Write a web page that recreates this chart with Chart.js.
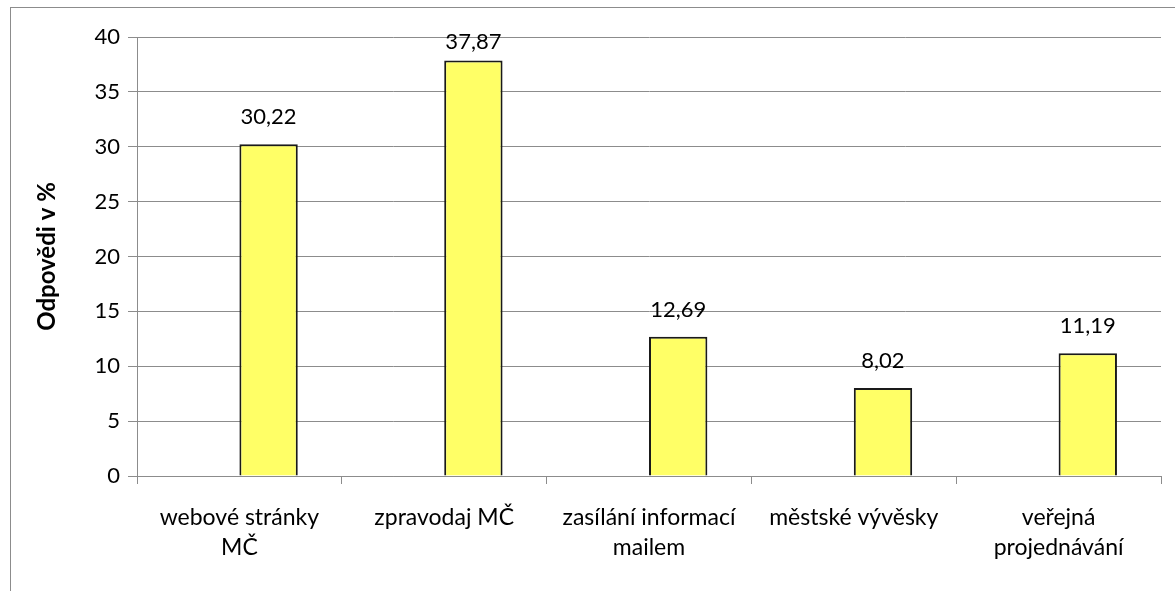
<!DOCTYPE html>
<html lang="cs">
<head>
    <meta charset="UTF-8">
    <title>Odpovědi v %</title>
    <style>
body {
    margin: 0;
    padding: 0;
    background-color: #fff;
    overflow: hidden;
}

#frame {
    position: absolute;
    left: 10px;
    top: 7px;
    width: 1300px;
    height: 700px;
    border: 1px solid #8c8c8c;
}

#chart-container {
    position: absolute;
    left: 0;
    top: 0;
    width: 1175px;
    height: 591px;
}
    </style>
</head>
<body>
    <div id="frame"></div>
    <div id="chart-container">
        <canvas id="surveyChart" width="1175" height="591"></canvas>
    </div>

    <script src="https://cdn.jsdelivr.net/npm/chart.js"></script>
    <script>
        // Data
        const categories = [
            ['webové stránky', 'MČ'],
            'zpravodaj MČ',
            ['zasílání informací', 'mailem'],
            'městské vývěsky',
            ['veřejná', 'projednávání']
        ];
        const emptySeries = [null, null, null, null, null];
        const answers = [30.22, 37.87, 12.69, 8.02, 11.19];
        const yTicks = [0, 5, 10, 15, 20, 25, 30, 35, 40];

        const fontFamily = 'Lato, "Open Sans", sans-serif';

        // value labels above bars (comma as decimal separator),
        // kept inside the plot area like the original
        const valueLabels = {
            id: 'valueLabels',
            afterDatasetsDraw(chart) {
                const ctx = chart.ctx;
                const meta = chart.getDatasetMeta(1);
                ctx.save();
                ctx.font = '22px ' + fontFamily;
                ctx.fillStyle = '#000';
                ctx.textAlign = 'center';
                ctx.textBaseline = 'middle';
                meta.data.forEach((bar, i) => {
                    const text = answers[i].toFixed(2).replace('.', ',');
                    const y = Math.max(bar.y - 27, chart.chartArea.top + 5);
                    ctx.fillText(text, bar.x, y);
                });
                ctx.restore();
            }
        };

        const ctx = document.getElementById('surveyChart').getContext('2d');

        new Chart(ctx, {
            type: 'bar',
            data: {
                labels: categories,
                datasets: [
                    {
                        label: '',
                        data: emptySeries,
                        backgroundColor: '#ffff66',
                        borderColor: '#1a1a1a',
                        borderWidth: 2
                    },
                    {
                        label: 'Odpovědi',
                        data: answers,
                        backgroundColor: '#ffff66',
                        borderColor: '#1a1a1a',
                        borderWidth: 2,
                        borderSkipped: 'bottom'
                    }
                ]
            },
            options: {
                responsive: false,
                animation: false,
                categoryPercentage: 0.57,
                barPercentage: 1.0,
                layout: {
                    padding: { left: 0, top: 37, right: 14, bottom: 0 }
                },
                plugins: {
                    legend: { display: false },
                    tooltip: { enabled: false }
                },
                scales: {
                    x: {
                        grid: {
                            offset: true,
                            drawOnChartArea: false,
                            drawTicks: true,
                            tickLength: 8,
                            color: '#8c8c8c'
                        },
                        border: { color: '#8c8c8c' },
                        ticks: {
                            color: '#000',
                            padding: 19,
                            maxRotation: 0,
                            autoSkip: false,
                            font: { family: fontFamily, size: 23, lineHeight: 1.3 }
                        },
                        afterFit(scale) {
                            scale.height = 115;
                        }
                    },
                    y: {
                        min: 0,
                        max: 40,
                        afterBuildTicks(scale) {
                            scale.ticks = yTicks.map(v => ({ value: v }));
                        },
                        grid: {
                            color: '#8c8c8c',
                            tickLength: 9
                        },
                        border: { color: '#8c8c8c' },
                        ticks: {
                            color: '#000',
                            padding: 8,
                            font: { family: fontFamily, size: 22 }
                        },
                        title: {
                            display: true,
                            text: 'Odpovědi v %',
                            color: '#000',
                            padding: { top: 33, bottom: 0 },
                            font: { family: fontFamily, size: 24, weight: 'bold' }
                        },
                        afterFit(scale) {
                            scale.width = 137;
                        }
                    }
                }
            },
            plugins: [valueLabels]
        });
    </script>
</body>
</html>
